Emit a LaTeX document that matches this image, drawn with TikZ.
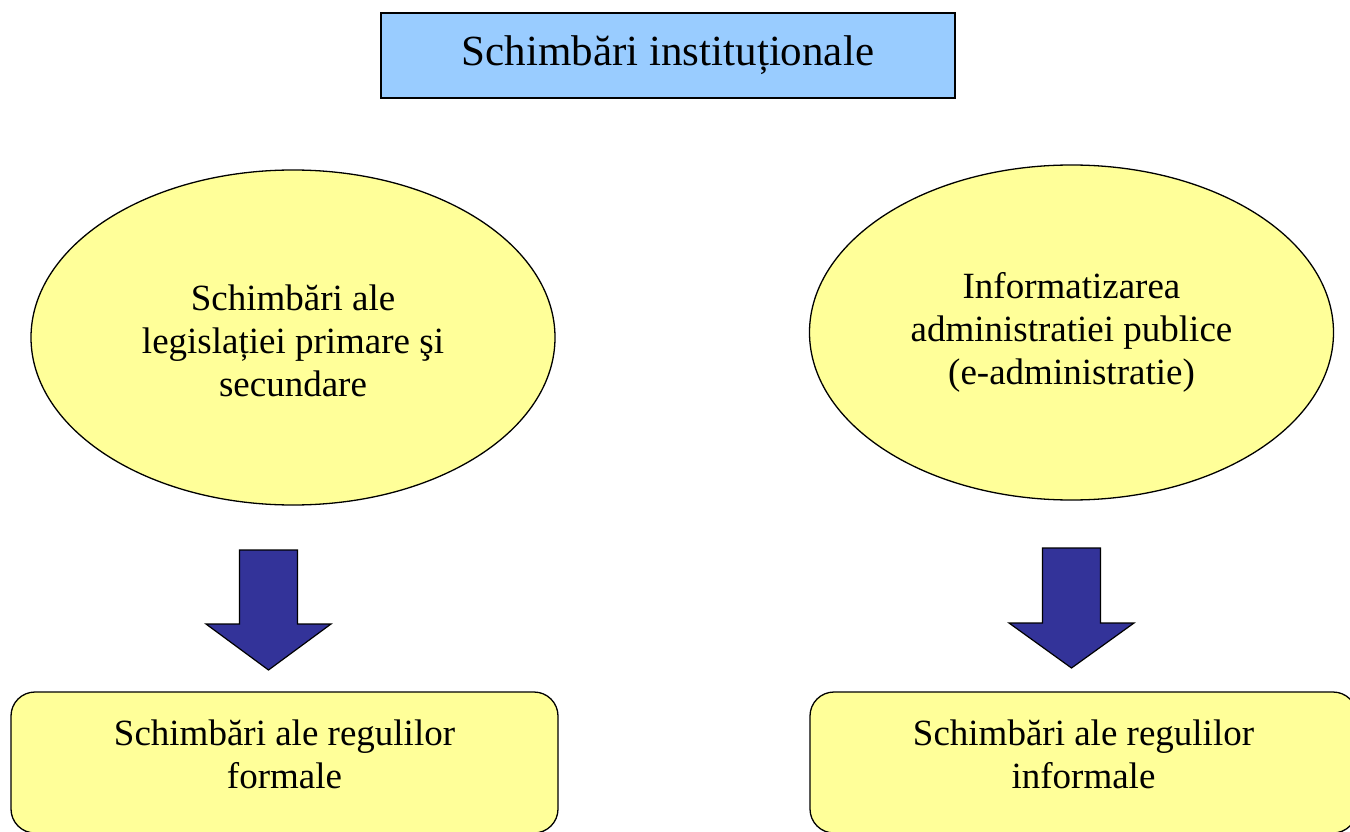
\documentclass[tikz,border=0pt]{standalone}
\usepackage{fontspec}
\setmainfont{Liberation Serif}
\usetikzlibrary{shapes.geometric}

\definecolor{titleblue}{HTML}{99CCFF}
\definecolor{paleyellow}{HTML}{FFFF99}
\definecolor{arrowblue}{HTML}{333399}

\tikzset{
  outline/.style={draw=black, line width=1.3pt},
  titlebox/.style={outline, fill=titleblue, rectangle, inner sep=0pt,
    minimum width=574pt, minimum height=85pt,
    font=\fontsize{43}{50}\selectfont},
  oval/.style={outline, fill=paleyellow, ellipse, inner sep=0pt,
    minimum width=524pt, minimum height=335pt},
  rulebox/.style={outline, fill=paleyellow, rectangle, rounded corners=24pt,
    inner sep=0pt, minimum width=547pt, minimum height=141pt},
  body/.style={align=center, inner sep=0pt,
    font=\fontsize{37}{43}\selectfont},
  blockarrow/.style={outline, line width=1.2pt, fill=arrowblue, line join=miter},
}

\begin{document}
\begin{tikzpicture}[x=1pt, y=-1pt]
  \useasboundingbox (0,0) rectangle (1350,832);
  \clip (0,0) rectangle (1350,832);

  % heading
  \node[titlebox] (title) at (668,55.5) {Schimbări instituționale};

  % the two sources of change
  \node[oval] (legis) at (293,337.5) {};
  \node[body] (legistext) at (293,341) {Schimbări ale\\legislației primare şi\\secundare};
  \node[oval] (eadmin) at (1071.5,332.5) {};
  \node[body] (eadmintext) at (1071.5,332) {Informatizarea\\administratiei publice\\(e-administratie)};

  % resulting rule changes (boxes run past the lower edge)
  \node[rulebox] (formal) at (284.5,762.5) {};
  \node[body] (formaltext) at (284.5,754.5) {Schimbări ale regulilor\\formale};
  \node[rulebox] (informal) at (1083.5,762.5) {};
  \node[body] (informaltext) at (1083.5,754.5) {Schimbări ale regulilor\\informale};

  % block arrows
  \coordinate (la) at (268.5,550);
  \coordinate (ra) at (1071.5,548);
  \draw[blockarrow] (la) ++(-29,0) -- ++(58,0) -- ++(0,74) -- ++(33.5,0)
    -- ++(-62.5,46) -- ++(-62.5,-46) -- ++(33.5,0) -- cycle;
  \draw[blockarrow] (ra) ++(-29,0) -- ++(58,0) -- ++(0,75) -- ++(33.5,0)
    -- ++(-62.5,45) -- ++(-62.5,-45) -- ++(33.5,0) -- cycle;
\end{tikzpicture}
\end{document}
